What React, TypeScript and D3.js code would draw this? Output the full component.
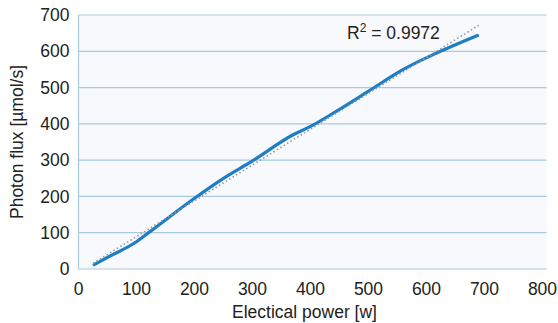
import React from 'react';
import * as d3 from 'd3';

const powerW = [25, 50, 100, 125, 200, 250, 300, 370, 400, 450, 500, 560, 620, 690];
const photonFlux = [10, 32, 75, 105, 195, 250, 298, 370, 393, 440, 490, 550, 597, 645];
const xTicks = [0, 100, 200, 300, 400, 500, 600, 700, 800];
const yTicks = [0, 100, 200, 300, 400, 500, 600, 700];

const width = 558;
const height = 323;
const margin = { top: 15, right: 15.5, bottom: 54, left: 78.5 };

export default function App() {
  const innerW = width - margin.left - margin.right;
  const innerH = height - margin.top - margin.bottom;
  const gridW = innerW + 4;

  const x = d3.scaleLinear().domain([0, 800]).range([0, innerW]);
  const y = d3.scaleLinear().domain([0, 700]).range([innerH, 0]);

  const pts = powerW.map((p, i) => [p, photonFlux[i]] as [number, number]);

  // linear trendline (least squares)
  const mx = d3.mean(powerW)!;
  const my = d3.mean(photonFlux)!;
  const slope =
    d3.sum(pts, d => (d[0] - mx) * (d[1] - my)) / d3.sum(pts, d => (d[0] - mx) ** 2);
  const icpt = my - slope * mx;
  const tx0 = powerW[0];
  const tx1 = powerW[powerW.length - 1];

  const line = d3.line<[number, number]>()
    .x(d => x(d[0]))
    .y(d => y(d[1]))
    .curve(d3.curveMonotoneX);

  const font = 'Liberation Sans, Arial, sans-serif';
  const fs = 17.5;

  return (
    <svg width={width} height={height} style={{ position: 'absolute', left: 0, top: 0 }}>
      <rect width={width} height={height} fill="#fff" />
      <g transform={`translate(${margin.left},${margin.top})`}>
        <rect x={0} y={0} width={gridW} height={innerH} fill="#f8f9fd" />
        {yTicks.map(t => (
          <line key={t} x1={0} x2={gridW} y1={y(t)} y2={y(t)} stroke="#a9c9dd" strokeWidth={1.2} />
        ))}
        <line x1={0} x2={0} y1={0} y2={innerH} stroke="#a9c9dd" strokeWidth={1.2} />
        {yTicks.map(t => (
          <text key={t} x={-9} y={y(t)} dy="0.35em" textAnchor="end" fontFamily={font} fontSize={fs} fill="#222">
            {t}
          </text>
        ))}
        {xTicks.map(t => (
          <text key={t} x={x(t)} y={innerH + 26} textAnchor="middle" fontFamily={font} fontSize={fs} fill="#222">
            {t}
          </text>
        ))}
        <path d={line(pts) ?? ''} fill="none" stroke="#1f7ec3" strokeWidth={3.2} strokeLinejoin="round" />
        <line
          x1={x(tx0)} y1={y(slope * tx0 + icpt)}
          x2={x(tx1)} y2={y(slope * tx1 + icpt)}
          stroke="#8c9aa5" strokeWidth={1.6} strokeDasharray="1.5,2.5"
        />
        <text x={x(463)} y={y(634)} fontFamily={font} fontSize={fs} fill="#222">
          R<tspan dy={-7} fontSize={12}>2</tspan><tspan dy={7}> = 0.9972</tspan>
        </text>
        <text x={innerW / 2 - 6} y={innerH + 49} textAnchor="middle" fontFamily={font} fontSize={fs} fill="#222">
          Electical power [w]
        </text>
      </g>
      <text
        transform={`translate(23,${margin.top + innerH / 2}) rotate(-90)`}
        textAnchor="middle" fontFamily={font} fontSize={fs} fill="#222"
      >
        Photon flux [µmol/s]
      </text>
    </svg>
  );
}
